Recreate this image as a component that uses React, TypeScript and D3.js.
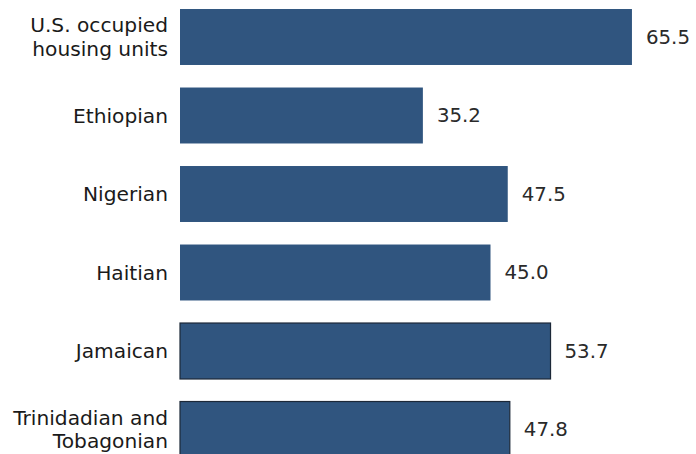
import React from "react";
import * as d3 from "d3";

const categories: string[][] = [
  ["U.S. occupied", "housing units"],
  ["Ethiopian"],
  ["Nigerian"],
  ["Haitian"],
  ["Jamaican"],
  ["Trinidadian and", "Tobagonian"],
];
const values: number[] = [65.5, 35.2, 47.5, 45.0, 53.7, 47.8];
const bordered: boolean[] = [false, false, false, false, true, true];

const W = 696;
const H = 454;

export default function App() {
  const keys = categories.map((c) => c.join(" "));
  const y = d3
    .scaleBand<string>()
    .domain(keys)
    .range([-2.25, -2.25 + 6 * 78.5])
    .paddingInner(0.287)
    .paddingOuter(0.1435);
  const x = d3.scaleLinear().domain([0, 70]).range([180, 663]);
  const font = "'DejaVu Sans', sans-serif";
  const lh = 23.5;
  return (
    <svg
      width={W}
      height={H}
      style={{ position: "absolute", left: 0, top: 0, background: "#fff" }}
    >
      {keys.map((k, i) => {
        const y0 = y(k)!;
        const bw = y.bandwidth();
        const cy = y0 + bw / 2;
        const lines = categories[i];
        return (
          <g key={k}>
            <rect
              x={x(0)}
              y={y0}
              width={x(values[i]) - x(0)}
              height={bw}
              fill="#30557f"
              stroke={bordered[i] ? "#1c2838" : "none"}
              strokeWidth={bordered[i] ? 1.2 : 0}
            />
            {lines.map((t, j) => (
              <text
                key={j}
                x={168}
                y={cy + (j - (lines.length - 1) / 2) * lh}
                dy="0.35em"
                textAnchor="end"
                fontFamily={font}
                fontSize={20.2}
                fill="#1a1a1a"
              >
                {t}
              </text>
            ))}
            <text
              x={x(values[i]) + 14}
              y={cy}
              dy="0.35em"
              fontFamily={font}
              fontSize={19.8}
              fill="#2a2a2a"
            >
              {values[i].toFixed(1)}
            </text>
          </g>
        );
      })}
    </svg>
  );
}
